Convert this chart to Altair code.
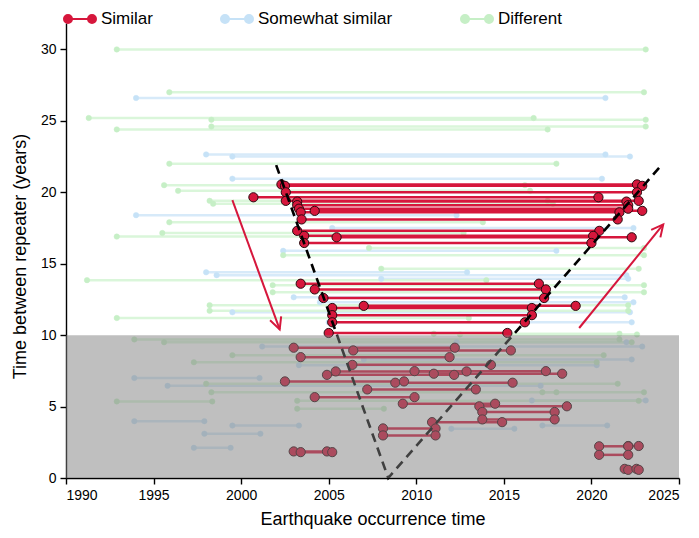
import math
import altair as alt
import pandas as pd

categories = ["Similar", "Somewhat similar", "Different"]

# ---- "Similar" repeater pairs: first event time, second event time, gap (years)
similar_start = [2002.3, 2002.5, 2002.55, 2000.7, 2002.55, 2003.2, 2003.2, 2003.3, 2003.4, 2004.2, 2003.45,
                 2003.2, 2003.6, 2005.45, 2003.6,
                 2003.4, 2004.2, 2004.7, 2005.2, 2007.0, 2005.2, 2005.2, 2005.0,
                 2003.0, 2006.4, 2003.4, 2006.35, 2009.9, 2005.4, 2004.9, 2011.0, 2002.5, 2008.8,
                 2007.2, 2004.2, 2009.23, 2013.6, 2013.77, 2013.77, 2010.9, 2008.1, 2008.1,
                 2003.0, 2003.4, 2020.44, 2022.1, 2020.44, 2021.9, 2022.1]
similar_end = [2022.6, 2022.9, 2022.6, 2020.4, 2022.7, 2022.0, 2022.1, 2022.1, 2021.6, 2022.9, 2021.5,
               2020.45, 2020.1, 2022.3, 2020.0,
               2017.0, 2017.4, 2017.3, 2016.6, 2019.1, 2016.6, 2016.2, 2015.2,
               2012.2, 2015.4, 2011.9, 2014.26, 2017.4, 2012.87, 2012.16, 2018.33, 2009.3, 2015.5,
               2013.4, 2009.9, 2014.5, 2018.6, 2017.9, 2017.9, 2014.9, 2011.1, 2011.1,
               2004.9, 2005.2, 2022.1, 2022.7, 2022.1, 2022.57, 2022.7]
similar_gap = [20.55, 20.45, 20.0, 19.65, 19.4, 19.35, 19.1, 18.85, 18.6, 18.7, 18.1,
               17.3, 16.95, 16.85, 16.45,
               13.6, 13.2, 12.6, 11.9, 12.05, 11.4, 10.9, 10.15,
               9.12, 8.93, 8.46, 7.92, 7.48, 7.46, 7.22, 7.3, 6.76, 6.67,
               6.2, 5.66, 5.2, 5.02, 4.62, 4.1, 3.91, 3.47, 2.98,
               1.86, 1.81, 2.22, 2.24, 1.62, 0.64, 0.57]

# ---- "Somewhat similar"
somewhat_start = [1994.0, 1998.0, 1999.5, 1999.5, 1994.0, 2005.2, 2002.4, 1998.0, 1998.6, 2008.0,
                  2003.0, 1999.5, 2004.5, 2005.0, 2001.2, 2012.3, 2007.0, 2003.3, 1993.9, 1995.8,
                  2016.6, 1993.9, 1999.5, 1997.9, 2012.0, 2017.2, 1997.3]
somewhat_end = [2020.8, 2020.8, 2022.2, 2020.6, 2012.3, 2022.4, 2018.0, 2012.9, 2022.0, 2022.1,
                2021.9, 2022.2, 2022.4, 2022.3, 2022.9, 2022.0, 2022.3, 2020.3, 2001.05, 2017.1,
                2023.1, 1997.9, 2003.3, 2001.1, 2015.6, 2020.9, 1999.4]
somewhat_gap = [26.6, 22.65, 22.5, 20.95, 18.4, 17.5, 15.9, 14.4, 14.2, 13.95,
                12.65, 11.6, 12.3, 10.9, 9.2, 9.5, 8.3, 7.9, 7.0, 6.45,
                5.43, 3.98, 3.67, 3.1, 3.45, 3.68, 2.11]

# ---- "Different"
different_start = [1992.9, 1995.9, 1991.3, 1998.3, 1998.3, 1992.9, 1995.9, 1995.6, 1996.4, 1998.2,
                   1998.4, 1995.9, 1992.9, 1995.5, 2007.3, 2002.4, 1991.2, 2008.0, 2001.8, 2001.8,
                   1998.2, 1998.2, 1992.9, 2011.0, 2012.5, 1993.9, 1995.6, 1999.5, 1997.3, 1998.0,
                   1998.3, 1992.9, 2003.2, 2003.2, 2017.2]
different_end = [2023.1, 2023.0, 2016.7, 2023.1, 2023.1, 2017.5, 2018.0, 2016.2, 2016.5, 2017.5,
                 2017.8, 2013.8, 2020.0, 2012.7, 2023.0, 2023.0, 2014.0, 2022.7, 2023.0, 2023.0,
                 2022.1, 2022.1, 2013.0, 2021.6, 2022.6, 2021.6, 2022.3, 2020.7, 2020.3, 2021.5,
                 2018.0, 1998.35, 2022.7, 2008.15, 2023.0]
different_gap = [30.0, 27.0, 25.2, 25.08, 24.6, 24.4, 22.0, 20.5, 20.1, 19.4,
                 19.2, 17.9, 16.9, 17.15, 16.1, 15.6, 13.85, 14.65, 13.5, 13.0,
                 12.1, 11.7, 11.2, 10.1, 10.05, 9.7, 9.5, 8.6, 8.1, 6.6,
                 6.0, 5.36, 5.4, 4.85, 6.0]

# shaded band, guide lines and arrows
shade_time = [1990, 2025]
shade_gap = [0, 10]
guide_time = [2002.0, 2008.4, 2024.0]
guide_gap = [21.9, 0.0, 21.9]
arrow_time_from = [1999.5, 2019.3]
arrow_gap_from = [19.45, 10.5]
arrow_time_to = [2002.2, 2024.1]
arrow_gap_to = [10.4, 17.75]

X_DOMAIN = [1990, 2025]
Y_DOMAIN = [0, 31.85]
W, H = 613, 455

RED = "#d6173c"
BLUE_PT = "#c6e2f7"
GREEN_PT = "#c6efc6"
BLUE_LN = "#d7eaf9"
GREEN_LN = "#d6f5d6"


def seg_df(start, end, gap, cat):
    return pd.DataFrame({"t1": start, "t2": end, "gap": gap, "cat": cat})


def pts_df(df):
    a = df[["t1", "gap", "cat"]].rename(columns={"t1": "t"})
    b = df[["t2", "gap", "cat"]].rename(columns={"t2": "t"})
    return pd.concat([a, b], ignore_index=True)


sim = seg_df(similar_start, similar_end, similar_gap, "Similar")
som = seg_df(somewhat_start, somewhat_end, somewhat_gap, "Somewhat similar")
dif = seg_df(different_start, different_end, different_gap, "Different")
bg_pts = pd.concat([pts_df(som), pts_df(dif)], ignore_index=True)
sim_pts = pts_df(sim)

xaxis = alt.Axis(values=list(range(1990, 2026, 5)), format="d", title="Earthquake occurrence time",
                 grid=False, tickSize=6, labelPadding=4, titlePadding=8)
yaxis = alt.Axis(values=list(range(0, 31, 5)), title="Time between repeater (years)",
                 grid=False, tickSize=6, labelPadding=4, titlePadding=11, titleY=233)
xs = alt.Scale(domain=X_DOMAIN, nice=False, zero=False)
ys = alt.Scale(domain=Y_DOMAIN, nice=False)


def X(f):
    return alt.X(f, type="quantitative", scale=xs, axis=xaxis)


def Y(f):
    return alt.Y(f, type="quantitative", scale=ys, axis=yaxis)


legend_path = ("M -1.2 0 L 1.2 0 "
               "M -1.6 0 A 0.4 0.4 0 1 0 -0.8 0 A 0.4 0.4 0 1 0 -1.6 0 "
               "M 0.8 0 A 0.4 0.4 0 1 0 1.6 0 A 0.4 0.4 0 1 0 0.8 0 Z")
legend = alt.Legend(orient="none", legendX=3, legendY=-15, direction="horizontal", title=None,
                    symbolType=legend_path, symbolSize=400, symbolStrokeWidth=2,
                    labelFontSize=17, labelOffset=10, columnPadding=64, padding=0,
                    labelColor="black", labelFont="Liberation Sans")
fill_scale = alt.Scale(domain=categories, range=[RED, BLUE_PT, GREEN_PT])

lines_som = alt.Chart(som).mark_rule(strokeWidth=2.5, color=BLUE_LN).encode(
    x=X("t1"), x2="t2", y=Y("gap"))
lines_dif = alt.Chart(dif).mark_rule(strokeWidth=2.5, color=GREEN_LN, opacity=0.9).encode(
    x=X("t1"), x2="t2", y=Y("gap"))
points_bg = alt.Chart(bg_pts).mark_point(filled=True, size=30, opacity=1, strokeWidth=0.5).encode(
    x=X("t"), y=Y("gap"),
    fill=alt.Fill("cat:N", scale=fill_scale, legend=legend),
    stroke=alt.Stroke("cat:N", scale=fill_scale, legend=legend))
lines_sim = alt.Chart(sim).mark_rule(strokeWidth=2.5, color=RED).encode(
    x=X("t1"), x2="t2", y=Y("gap"))
points_sim = alt.Chart(sim_pts).mark_point(filled=True, size=85, fill=RED, stroke="#2a0a0f",
                                           strokeWidth=1, opacity=1).encode(
    x=X("t"), y=Y("gap"))

guide = alt.Chart(pd.DataFrame({"t": guide_time, "gap": guide_gap, "o": [0, 1, 2]})).mark_line(
    color="black", strokeWidth=2.6, strokeDash=[9, 6]).encode(
    x=X("t"), y=Y("gap"), order="o:Q")

shade = alt.Chart(pd.DataFrame({"t1": [shade_time[0]], "t2": [shade_time[1]],
                                "g1": [shade_gap[0]], "g2": [shade_gap[1]]})).mark_rect(
    color="#808080", opacity=0.5).encode(x=X("t1"), x2="t2", y=Y("g1"), y2="g2")

sx = W / (X_DOMAIN[1] - X_DOMAIN[0])
sy = H / (Y_DOMAIN[1] - Y_DOMAIN[0])
angles = []
for a, b, c, d in zip(arrow_time_from, arrow_gap_from, arrow_time_to, arrow_gap_to):
    dxs = (c - a) * sx
    dys = -(d - b) * sy
    angles.append(math.degrees(math.atan2(dxs, -dys)) % 360)
arrows = pd.DataFrame({"t1": arrow_time_from, "g1": arrow_gap_from,
                       "t2": arrow_time_to, "g2": arrow_gap_to, "ang": angles})
shaft = alt.Chart(arrows).mark_rule(color=RED, strokeWidth=2).encode(
    x=X("t1"), y=Y("g1"), x2="t2", y2="g2")
head = alt.Chart(arrows).mark_point(shape="M -0.5 1 L 0 0 L 0.5 1", size=560, filled=False,
                                    color=RED, strokeWidth=2, opacity=1).encode(
    x=X("t2"), y=Y("g2"), angle=alt.Angle("ang:Q", scale=None))

chart = alt.layer(lines_som, lines_dif, points_bg, lines_sim, points_sim, guide, shade, shaft, head).properties(
    width=W, height=H, autosize=alt.AutoSizeParams(type="none"),
    padding={"left": 58, "top": 15, "right": 12, "bottom": 52}
).configure_view(stroke=None).configure_axis(
    domainColor="black", domainWidth=1.4, tickColor="black", tickWidth=1.4,
    labelFontSize=14, labelColor="black", labelFont="Liberation Sans",
    titleFontSize=18, titleFontWeight="normal", titleColor="black", titleFont="Liberation Sans"
)

chart.save("out.html", embed_options={"renderer": "svg", "actions": False})
